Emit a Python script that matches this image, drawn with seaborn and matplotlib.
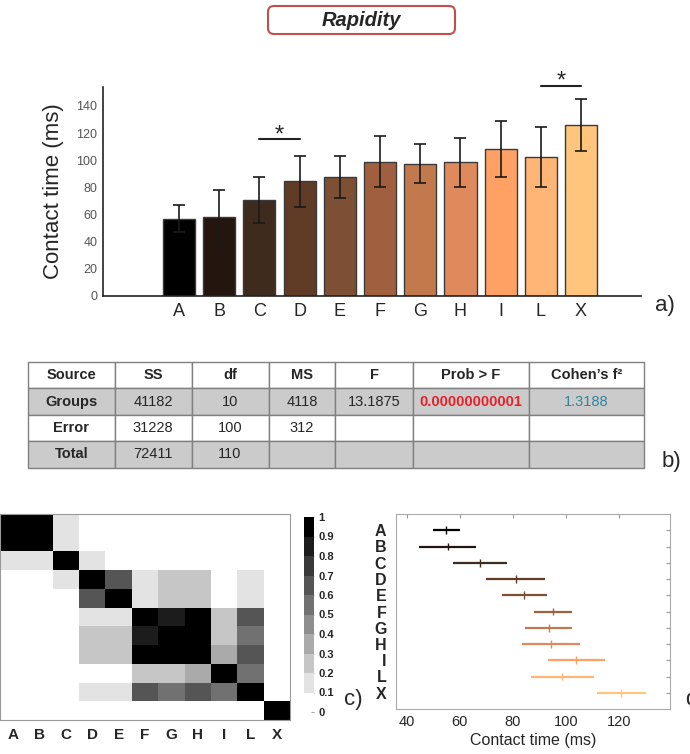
import matplotlib
matplotlib.use("Agg")
import matplotlib.pyplot as plt
import seaborn as sns
import numpy as np
import pandas as pd
from matplotlib.colors import ListedColormap
from matplotlib.patches import FancyBboxPatch
from matplotlib.transforms import IdentityTransform

# ---- data ----
groups = ["A", "B", "C", "D", "E", "F", "G", "H", "I", "L", "X"]
bar_means = [57, 58, 71, 84.5, 88, 99, 97.5, 98.5, 108.5, 102.5, 126]
bar_errs = [10, 20, 17, 19, 15.5, 19, 14.5, 18, 20.5, 22, 19]
bar_colors = ["#000000", "#24150e", "#3f2b1d", "#603c26", "#7d4f34", "#a0603f",
              "#c27a4c", "#de8a5c", "#ffa164", "#ffb575", "#ffc57d"]
sig_pairs = [("C", "D", 115.4), ("L", "X", 155)]

table_header = ["Source", "SS", "df", "MS", "F", "Prob > F", "Cohen’s f²"]
table_rows = [
    ["Groups", "41182", "10", "4118", "13.1875", "0.00000000001", "1.3188"],
    ["Error", "31228", "100", "312", "", "", ""],
    ["Total", "72411", "110", "", "", "", ""],
]

# pairwise similarity (p-values) between groups
sim = [
    [1, 1, .15, 0, 0, 0, 0, 0, 0, 0, 0],
    [1, 1, .15, 0, 0, 0, 0, 0, 0, 0, 0],
    [.15, .15, 1, .15, 0, 0, 0, 0, 0, 0, 0],
    [0, 0, .15, 1, .65, .15, .25, .25, 0, .15, 0],
    [0, 0, 0, .65, 1, .15, .25, .25, 0, .15, 0],
    [0, 0, 0, .15, .15, 1, .85, 1, .25, .65, 0],
    [0, 0, 0, .25, .25, .85, 1, 1, .25, .55, 0],
    [0, 0, 0, .25, .25, 1, 1, 1, .35, .65, 0],
    [0, 0, 0, 0, 0, .25, .25, .35, 1, .55, 0],
    [0, 0, 0, .15, .15, .65, .55, .65, .55, 1, 0],
    [0, 0, 0, 0, 0, 0, 0, 0, 0, 0, 1],
]
cbar_ticks = [0, 0.1, 0.2, 0.3, 0.4, 0.5, 0.6, 0.7, 0.8, 0.9, 1]
cbar_labels = ["0", "0.1", "0.2", "0.3", "0.4", "0.5", "0.6", "0.7", "0.8", "0.9", "1"]

# multiple comparison: group mean and interval half width
mc_means = [54.9, 55.4, 67.7, 81.0, 84.3, 95.0, 93.4, 94.2, 103.8, 98.5, 120.7]
mc_half = [5.1, 10.6, 10.2, 11.0, 8.6, 7.0, 8.8, 10.8, 10.7, 11.9, 9.3]

# ---- style ----
sns.set_style("white")
plt.rcParams["font.family"] = ["Liberation Sans", "DejaVu Sans"]

W, H = 690, 754
fig = plt.figure(figsize=(W / 100, H / 100), dpi=100)


def frac(x0, y0, x1, y1):
    # pixel box (top-left origin) -> figure fraction rect
    return [x0 / W, 1 - y1 / H, (x1 - x0) / W, (y1 - y0) / H]


# title box
fig.add_artist(FancyBboxPatch((268, H - 34), 187, 28,
                              boxstyle="round,pad=0,rounding_size=6",
                              transform=IdentityTransform(), facecolor="white",
                              edgecolor="#c0504d", linewidth=1.5))
fig.text(361.5 / W, 1 - 20 / H, "Rapidity", ha="center", va="center",
         fontsize=14.5, fontweight="bold", fontstyle="italic")

# ---- a) bar chart ----
ax_a = fig.add_axes(frac(103, 87, 641, 296))
sns.barplot(x=groups, y=bar_means, hue=groups, palette=bar_colors, legend=False,
            saturation=1, edgecolor="#3a3a3a", linewidth=1, width=0.8, ax=ax_a)
ax_a.errorbar(np.arange(len(groups)), bar_means, yerr=bar_errs, fmt="none",
              ecolor="#1a1a1a", elinewidth=1.2, capsize=4, capthick=1.2)
for g1, g2, yv in sig_pairs:
    i1, i2 = groups.index(g1), groups.index(g2)
    ax_a.plot([i1, i2], [yv, yv], color="#222222", lw=1.5, clip_on=False)
    ax_a.text((i1 + i2) / 2, yv + 3, "*", ha="center", va="center",
              fontsize=17, clip_on=False)
ax_a.set_xlim(-1.89, 11.49)
ax_a.set_ylim(0, 154)
ax_a.set_yticks(range(0, 141, 20))
sns.despine(ax=ax_a)
for s in ["left", "bottom"]:
    ax_a.spines[s].set_color("#222222")
    ax_a.spines[s].set_linewidth(1.2)
ax_a.tick_params(axis="both", length=0)
ax_a.tick_params(axis="y", labelsize=9, labelcolor="#555555", pad=4)
ax_a.tick_params(axis="x", labelsize=13, pad=5)
ax_a.set_ylabel("Contact time (ms)", fontsize=16, labelpad=9)
ax_a.set_xlabel("")
fig.text(665 / W, 1 - 306 / H, "a)", ha="center", va="center", fontsize=16)

# ---- b) ANOVA table ----
ax_b = fig.add_axes(frac(27.6, 362, 644, 467.7))
ax_b.axis("off")
col_w = np.array([87.3, 76.6, 77, 66.8, 77.4, 116.3, 115])
row_fill = ["white", "#cbcbcb", "white", "#cbcbcb"]
cells = [table_header] + table_rows
colours = [[row_fill[r]] * len(table_header) for r in range(len(cells))]
tbl = ax_b.table(cellText=cells, cellColours=colours, colWidths=col_w / col_w.sum(),
                 cellLoc="center", bbox=[0, 0, 1, 1])
tbl.auto_set_font_size(False)
for (r, c), cell in tbl.get_celld().items():
    cell.set_edgecolor("#808080")
    cell.set_linewidth(1)
    t = cell.get_text()
    t.set_fontsize(10.5)
    if r == 0 or c == 0:
        t.set_fontweight("bold")
    if r == 1 and c == 5:
        t.set_color("#e8202a")
        t.set_fontweight("bold")
    if r == 1 and c == 6:
        t.set_color("#31859c")
fig.text(671 / W, 1 - 461 / H, "b)", ha="center", va="center", fontsize=16)

# ---- c) similarity heatmap ----
ax_c = fig.add_axes(frac(0, 514, 290, 720))
ax_cb = fig.add_axes(frac(304, 517, 314, 712))
grays = [str(v) for v in np.linspace(1, 0, 10)]
sim_df = pd.DataFrame(sim, index=groups, columns=groups)
sns.heatmap(sim_df, cmap=ListedColormap(grays), vmin=0, vmax=1, ax=ax_c,
            cbar_ax=ax_cb, xticklabels=groups, yticklabels=False, linewidths=0)
ax_c.set_yticks(np.arange(len(groups)) + 0.5)
ax_c.set_yticklabels([])
ax_c.tick_params(direction="in", length=3, color="#999999", top=True,
                 bottom=True, left=True, right=True, labelsize=11, pad=6)
for lab in ax_c.get_xticklabels():
    lab.set_fontweight("bold")
    lab.set_rotation(0)
for s in ax_c.spines.values():
    s.set_visible(True)
    s.set_color("#999999")
cbar = ax_c.collections[0].colorbar
cbar.set_ticks(cbar_ticks)
cbar.set_ticklabels(cbar_labels)
cbar.outline.set_edgecolor("#999999")
ax_cb.tick_params(direction="in", length=2, color="#aaaaaa", labelsize=8, pad=3)
for lab in ax_cb.get_yticklabels():
    lab.set_fontweight("bold")
fig.text(353 / W, 1 - 700 / H, "c)", ha="center", va="center", fontsize=16)

# ---- d) multiple comparison ----
ax_d = fig.add_axes(frac(396, 514, 670, 709))
ypos = np.arange(len(groups), 0, -1)
lo = np.array(mc_means) - np.array(mc_half)
hi = np.array(mc_means) + np.array(mc_half)
ax_d.hlines(ypos, lo, hi, colors=bar_colors, lw=1.6)
sns.scatterplot(x=mc_means, y=ypos, hue=groups, palette=bar_colors, marker="|",
                s=30, linewidth=1, legend=False, ax=ax_d)
ax_d.set_xlim(36, 139)
ax_d.set_ylim(0, 12)
ax_d.set_xticks([40, 60, 80, 100, 120])
ax_d.set_yticks(ypos)
ax_d.set_yticklabels(groups, fontweight="bold", fontsize=11.5)
ax_d.tick_params(direction="in", length=3, color="#999999", top=True,
                 right=True, pad=4)
ax_d.tick_params(axis="x", labelsize=10.5)
ax_d.tick_params(axis="y", pad=7)
for s in ax_d.spines.values():
    s.set_color("#aaaaaa")
ax_d.set_xlabel("Contact time (ms)", fontsize=11.5, labelpad=3)
fig.text(685 / W, 1 - 700 / H, "d)", ha="left", va="center", fontsize=16)

fig.savefig("out.png", dpi=100, facecolor="white")
